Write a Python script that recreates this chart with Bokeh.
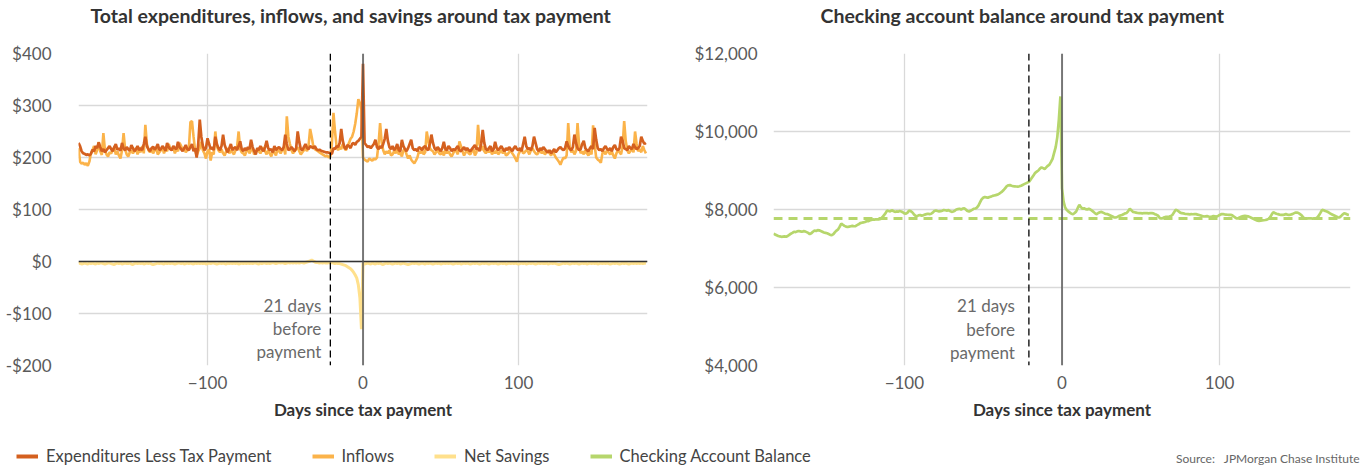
from bokeh.plotting import figure
from bokeh.models import Span, Label, Legend, LegendItem, FixedTicker, Range1d
from bokeh.layouts import row, column
from bokeh.embed import file_html
from bokeh.resources import INLINE

FONT = "Lato"

days = list(range(-183, 183))

expenditures = [
    228, 222, 212, 208, 207, 205, 206, 204, 207, 215,
    212, 222, 218, 229, 220, 212, 216, 210, 214, 218,
    222, 216, 212, 220, 226, 215, 218, 213, 228, 217,
    214, 220, 216, 213, 224, 218, 212, 216, 222, 214,
    218, 214, 226, 240, 222, 216, 212, 218, 221, 215,
    219, 226, 214, 216, 222, 218, 213, 228, 220, 216,
    214, 222, 218, 216, 230, 220, 216, 212, 218, 224,
    216, 214, 220, 226, 212, 218, 200, 225, 273, 240,
    222, 214, 218, 237, 226, 216, 220, 214, 240, 226,
    218, 214, 222, 244, 224, 216, 210, 218, 226, 214,
    218, 220, 214, 222, 231, 216, 212, 218, 214, 220,
    216, 234, 220, 212, 206, 218, 214, 222, 216, 212,
    220, 232, 218, 214, 216, 210, 222, 214, 218, 220,
    216, 214, 220, 244, 226, 214, 216, 220, 216, 212,
    218, 250, 230, 216, 214, 220, 226, 218, 216, 222,
    220, 218, 222, 216, 214, 215, 213, 212, 211, 210,
    210, 209, 208, 207, 218, 216, 222, 220, 228, 255,
    232, 220, 216, 224, 222, 218, 226, 228, 224, 230,
    232, 236, 240, 380, 228, 224, 220, 222, 218, 222,
    226, 234, 220, 216, 222, 218, 226, 236, 255, 232,
    220, 216, 222, 214, 218, 226, 214, 212, 234, 222,
    216, 212, 218, 226, 234, 218, 214, 216, 212, 220,
    218, 214, 220, 222, 216, 214, 226, 244, 228, 218,
    214, 220, 216, 212, 218, 230, 216, 214, 222, 218,
    212, 216, 214, 218, 222, 214, 212, 216, 220, 214,
    218, 214, 212, 216, 220, 224, 216, 218, 212, 226,
    253, 228, 216, 214, 218, 222, 212, 216, 230, 218,
    214, 218, 222, 216, 212, 218, 214, 220, 216, 212,
    218, 222, 216, 214, 218, 212, 226, 240, 222, 216,
    218, 214, 222, 240, 228, 216, 212, 218, 214, 220,
    216, 212, 210, 214, 208, 212, 216, 210, 214, 218,
    220, 216, 214, 218, 231, 222, 216, 214, 220, 244,
    228, 218, 214, 216, 226, 232, 218, 214, 212, 218,
    222, 216, 257, 234, 218, 214, 216, 212, 218, 222,
    216, 214, 218, 212, 220, 224, 216, 214, 218, 240,
    232, 218, 216, 214, 222, 218, 216, 226, 220, 216,
    218, 222, 240, 232, 226, 228,
]

inflows = [
    218, 192, 188, 190, 186, 189, 184, 192, 208, 214,
    222, 206, 214, 230, 212, 205, 247, 214, 206, 202,
    210, 208, 214, 220, 206, 212, 204, 198, 214, 247,
    216, 206, 202, 210, 214, 208, 212, 218, 206, 214,
    210, 222, 208, 263, 226, 214, 210, 216, 208, 214,
    218, 206, 210, 214, 220, 208, 216, 212, 226, 218,
    214, 220, 208, 216, 212, 228, 222, 214, 218, 210,
    214, 218, 268, 270, 240, 214, 204, 212, 218, 230,
    214, 208, 198, 212, 216, 194, 210, 206, 250, 222,
    214, 210, 216, 208, 204, 212, 218, 208, 214, 210,
    206, 214, 220, 250, 216, 210, 208, 204, 212, 216,
    208, 214, 218, 206, 210, 216, 212, 208, 214, 220,
    212, 206, 214, 208, 202, 212, 210, 204, 216, 212,
    208, 214, 220, 206, 279, 240, 226, 214, 208, 212,
    216, 220, 212, 206, 210, 214, 218, 212, 224, 255,
    240, 222, 216, 214, 212, 210, 208, 206, 204, 202,
    204, 200, 202, 226, 286, 250, 222, 214, 220, 216,
    226, 218, 214, 222, 228, 236, 240, 250, 265, 285,
    312, 305, 292, 200, 196, 194, 192, 198, 196, 194,
    198, 196, 200, 226, 266, 230, 214, 206, 212, 208,
    214, 204, 206, 212, 208, 218, 206, 210, 202, 214,
    216, 206, 198, 204, 196, 192, 189, 194, 200, 212,
    208, 214, 206, 210, 250, 232, 218, 214, 212, 206,
    210, 216, 208, 206, 212, 204, 214, 208, 212, 206,
    202, 208, 214, 212, 206, 231, 222, 212, 204, 210,
    214, 208, 206, 212, 216, 204, 210, 263, 226, 214,
    222, 212, 208, 214, 210, 216, 206, 212, 208, 214,
    206, 210, 214, 208, 212, 204, 206, 210, 214, 208,
    204, 198, 192, 206, 212, 216, 208, 210, 214, 212,
    206, 214, 218, 212, 208, 206, 210, 214, 208, 212,
    206, 210, 214, 208, 204, 212, 206, 200, 196, 192,
    186, 194, 200, 198, 204, 266, 220, 210, 214, 206,
    212, 266, 224, 208, 212, 206, 214, 208, 204, 212,
    206, 262, 224, 200, 196, 194, 190, 208, 212, 206,
    214, 210, 206, 212, 204, 198, 208, 214, 210, 206,
    222, 270, 232, 214, 208, 212, 218, 210, 250, 226,
    212, 216, 210, 222, 214, 208,
]

net_savings = [
    -4, -3, -5, -4, -3, -4, -5, -3, -4, -3,
    -4, -5, -3, -4, -3, -3, -4, -5, -4, -3,
    -3, -4, -5, -6, -4, -3, -4, -3, -5, -4,
    -3, -4, -4, -3, -5, -6, -4, -3, -4, -3,
    -4, -3, -5, -4, -3, -4, -3, -5, -6, -5,
    -4, -3, -4, -3, -4, -5, -3, -4, -3, -4,
    -3, -4, -5, -4, -3, -3, -4, -3, -5, -4,
    -3, -4, -3, -4, -5, -3, -4, -3, -4, -3,
    -4, -3, -5, -4, -3, -4, -3, -3, -4, -5,
    -4, -3, -4, -3, -4, -5, -3, -4, -3, -4,
    -3, -4, -3, -5, -4, -3, -4, -3, -4, -3,
    -4, -3, -4, -3, -3, -4, -5, -3, -4, -3,
    -3, -4, -3, -4, -3, -2, -3, -4, -3, -2,
    -3, -2, -3, -4, -3, -2, -3, -2, -3, -2,
    -3, -2, -3, -2, -2, -3, -2, -1, 0, 1,
    3, 1, -1, -2, -2, -3, -2, -3, -2, -3,
    -3, -2, -3, -2, -3, -4, -3, -4, -4, -5,
    -6, -7, -8, -10, -12, -14, -17, -21, -26, -32,
    -45, -70, -130, -3, -5, -4, -3, -4, -5, -3,
    -4, -5, -3, -4, -3, -5, -6, -4, -3, -4,
    -3, -4, -5, -4, -3, -4, -3, -5, -4, -3,
    -4, -5, -6, -5, -4, -3, -4, -3, -4, -5,
    -4, -3, -4, -5, -3, -4, -3, -4, -5, -4,
    -3, -4, -3, -5, -4, -3, -4, -3, -4, -3,
    -4, -5, -4, -3, -4, -3, -5, -4, -3, -4,
    -3, -4, -5, -4, -3, -4, -3, -4, -5, -4,
    -3, -4, -3, -4, -5, -4, -3, -4, -3, -4,
    -5, -4, -3, -4, -3, -5, -4, -3, -4, -3,
    -4, -3, -4, -5, -4, -3, -4, -3, -5, -4,
    -3, -4, -3, -4, -5, -4, -3, -4, -3, -4,
    -4, -3, -5, -4, -3, -4, -3, -4, -5, -6,
    -5, -4, -3, -4, -3, -4, -5, -4, -3, -4,
    -3, -4, -5, -4, -3, -4, -3, -5, -4, -3,
    -4, -3, -4, -3, -5, -4, -3, -4, -3, -4,
    -3, -4, -5, -4, -3, -4, -3, -4, -5, -4,
    -3, -4, -3, -4, -5, -4, -3, -4, -3, -4,
    -3, -4, -3, -4, -3, -4,
]

checking_balance = [
    7380, 7360, 7340, 7320, 7310, 7300, 7305, 7310, 7300, 7320,
    7350, 7380, 7400, 7430, 7420, 7440, 7450, 7440, 7430, 7445,
    7440, 7420, 7400, 7370, 7390, 7430, 7460, 7450, 7470, 7465,
    7450, 7430, 7410, 7400, 7390, 7370, 7350, 7345, 7370, 7420,
    7460, 7490, 7560, 7640, 7610, 7580, 7560, 7550, 7560, 7570,
    7580, 7570, 7575, 7600, 7620, 7650, 7660, 7670, 7680, 7700,
    7700, 7720, 7730, 7745, 7740, 7750, 7745, 7748, 7760, 7800,
    7850, 7900, 7970, 7960, 7950, 7980, 7960, 7940, 7950, 7945,
    7960, 7950, 7930, 7900, 7890, 7920, 7970, 7960, 7930, 7880,
    7840, 7830, 7850, 7860, 7840, 7855, 7870, 7880, 7890, 7880,
    7890, 7920, 7960, 7975, 7960, 7950, 7957, 7970, 7985, 7980,
    7970, 7985, 7960, 7940, 7950, 7970, 8000, 8010, 8020, 8000,
    8025, 8030, 8000, 7960, 7950, 7970, 7990, 8020, 8025, 8050,
    8100, 8180, 8260, 8300, 8320, 8310, 8300, 8320, 8330, 8350,
    8360, 8370, 8380, 8400, 8430, 8460, 8500, 8550, 8600, 8620,
    8625, 8610, 8600, 8595, 8590, 8585, 8595, 8610, 8630, 8650,
    8670, 8690, 8710, 8760, 8820, 8880, 8940, 8970, 9000, 9050,
    9080, 9060, 9040, 9080, 9120, 9150, 9220, 9300, 9450, 9600,
    9850, 10300, 10900, 8550, 8200, 8050, 7990, 7950, 7920, 7890,
    7880, 7910, 7950, 8040, 8120, 8060, 8020, 8030, 8010, 8000,
    8020, 8000, 7970, 7940, 7900, 7880, 7910, 7930, 7940, 7920,
    7900, 7885, 7880, 7860, 7840, 7820, 7800, 7795, 7810, 7830,
    7846, 7860, 7880, 7900, 7910, 7960, 8017, 7980, 7940, 7930,
    7920, 7910, 7905, 7905, 7900, 7910, 7905, 7908, 7900, 7910,
    7905, 7900, 7880, 7864, 7840, 7780, 7770, 7780, 7800, 7810,
    7815, 7820, 7830, 7860, 7920, 7990, 7980, 7950, 7920, 7905,
    7900, 7890, 7885, 7880, 7875, 7880, 7878, 7882, 7880, 7870,
    7860, 7845, 7830, 7820, 7825, 7830, 7820, 7815, 7820, 7830,
    7825, 7820, 7835, 7860, 7880, 7885, 7875, 7870, 7865, 7860,
    7864, 7850, 7820, 7790, 7770, 7780, 7800, 7820, 7830, 7835,
    7830, 7825, 7810, 7790, 7770, 7750, 7730, 7715, 7710, 7715,
    7720, 7725, 7730, 7740, 7760, 7800, 7870, 7932, 7910, 7890,
    7880, 7870, 7864, 7860, 7870, 7880, 7870, 7864, 7870, 7880,
    7900, 7920, 7923, 7910, 7880, 7850, 7800, 7770, 7775, 7770,
    7772, 7770, 7768, 7770, 7775, 7800, 7850, 7920, 7992, 7980,
    7960, 7949, 7930, 7900, 7880, 7860, 7840, 7820, 7800, 7795,
    7830, 7870, 7905, 7890, 7870, 7864,
]

average_balance = 7770
marker_day = -21

titles = ["Total expenditures, inflows, and savings around tax payment",
          "Checking account balance around tax payment"]
left_ticks = [-200, -100, 0, 100, 200, 300, 400]
left_labels = ["-$200", "-$100", "$0", "$100", "$200", "$300", "$400"]
right_ticks = [4000, 6000, 8000, 10000, 12000]
right_labels = ["$4,000", "$6,000", "$8,000", "$10,000", "$12,000"]
x_ticks = [-100, 0, 100]
x_labels = ["\u2212100", "0", "100"]

C_EXP = "#D4601F"
C_INF = "#FBB34A"
C_NET = "#FFE08C"
C_BAL = "#B6D66C"
GRID = "#d9d9d9"

for arr in (expenditures, inflows, net_savings, checking_balance):
    assert len(arr) == len(days), len(arr)


def blank(width, height):
    f = figure(width=width, height=height, x_range=Range1d(0, 1), y_range=Range1d(0, 1),
               x_axis_type=None, y_axis_type=None, toolbar_location=None, output_backend="svg",
               min_border_left=0, min_border_right=0, min_border_top=0, min_border_bottom=0)
    f.outline_line_color = None
    f.grid.visible = False
    return f


def style(p, yticks, ylabels, ystandoff):
    p.outline_line_color = None
    p.xaxis.ticker = FixedTicker(ticks=x_ticks)
    p.xaxis.major_label_overrides = dict(zip(x_ticks, x_labels))
    p.yaxis.ticker = FixedTicker(ticks=yticks)
    p.yaxis.major_label_overrides = dict(zip(yticks, ylabels))
    for ax in (p.xaxis[0], p.yaxis[0]):
        ax.axis_line_color = None
        ax.major_tick_line_color = None
        ax.minor_tick_line_color = None
        ax.major_label_text_font = FONT
        ax.major_label_text_font_size = "17px"
        ax.major_label_text_color = "#5a5a5a"
    p.yaxis.major_label_standoff = ystandoff
    p.xaxis.major_label_standoff = 4
    p.xaxis.axis_label = "Days since tax payment"
    p.xaxis.axis_label_text_font = FONT
    p.xaxis.axis_label_text_font_style = "bold"
    p.xaxis.axis_label_text_font_size = "17px"
    p.xaxis.axis_label_text_color = "#333333"
    p.xaxis.axis_label_standoff = 7
    p.xgrid.ticker = FixedTicker(ticks=x_ticks)
    p.ygrid.ticker = FixedTicker(ticks=yticks)
    p.grid.grid_line_color = GRID
    p.grid.grid_line_width = 1.3


def annotate(p, yval, xoff):
    p.add_layout(Span(location=marker_day, dimension="height", line_color="black",
                      line_width=1.3, line_dash="7 4"))
    p.add_layout(Span(location=0, dimension="height", line_color="#555555", line_width=1.5))
    p.add_layout(Label(x=marker_day, y=yval, x_offset=xoff, text="21 days\nbefore\npayment",
                       text_align="right", text_baseline="top", text_font=FONT,
                       text_font_size="17px", text_color="#6a6a6a", text_line_height=1.1))


# title strip
pt = blank(1366, 28)
for tx, xpos in zip(titles, [90, 820]):
    pt.add_layout(Label(x=xpos, y=13, x_units="screen", y_units="screen", text=tx,
                        text_align="left", text_baseline="middle", text_font=FONT,
                        text_font_size="19.5px", text_font_style="bold", text_color="#333333"))

p1 = figure(width=683, height=394, x_range=Range1d(-183, 183), y_range=Range1d(-200, 400),
            toolbar_location=None, output_backend="svg",
            min_border_left=78, min_border_right=36, min_border_top=25, min_border_bottom=40)
style(p1, left_ticks, left_labels, 21)
p1.add_layout(Span(location=0, dimension="width", line_color="#333333", line_width=1.5))
r_net = p1.line(days, net_savings, line_color=C_NET, line_width=3)
r_inf = p1.line(days, inflows, line_color=C_INF, line_width=2.6)
r_exp = p1.line(days, expenditures, line_color=C_EXP, line_width=2.7)
annotate(p1, -65, -9)

p2 = figure(width=683, height=394, x_range=Range1d(-183, 183), y_range=Range1d(4000, 12000),
            toolbar_location=None, output_backend="svg",
            min_border_left=90, min_border_right=16, min_border_top=25, min_border_bottom=40)
style(p2, right_ticks, right_labels, 10)
p2.add_layout(Span(location=average_balance, dimension="width", line_color=C_BAL,
                   line_width=3, line_dash="9 6"))
r_bal = p2.line(days, checking_balance, line_color=C_BAL, line_width=2.7)
annotate(p2, 5795, -14)

p3 = blank(1366, 44)
names = ["Expenditures Less Tax Payment", "Inflows", "Net Savings", "Checking Account Balance"]
colors = [C_EXP, C_INF, C_NET, C_BAL]
nan = float("nan")
items = []
for nm, c in zip(names, colors):
    rr = p3.line(x=[0, 1], y=[nan, nan], line_color=c, line_width=4)
    items.append(LegendItem(label=nm, renderers=[rr]))
leg = Legend(items=items, orientation="horizontal", location=(16, 0),
             label_text_font=FONT, label_text_font_size="16.5px", label_text_color="#444444",
             glyph_width=22, glyph_height=18, label_standoff=8, spacing=40,
             padding=0, margin=0, border_line_color=None, background_fill_alpha=0)
p3.add_layout(leg, "center")
p3.add_layout(Label(x=1359, y=1, x_units="screen", y_units="screen",
                    text="Source:\u00a0\u00a0\u00a0JPMorgan Chase Institute", text_align="right",
                    text_baseline="bottom", text_font=FONT, text_font_size="12px",
                    text_color="#666666"))

layout = column(pt, row(p1, p2), p3)
open("out.html", "w").write(file_html(layout, INLINE))
